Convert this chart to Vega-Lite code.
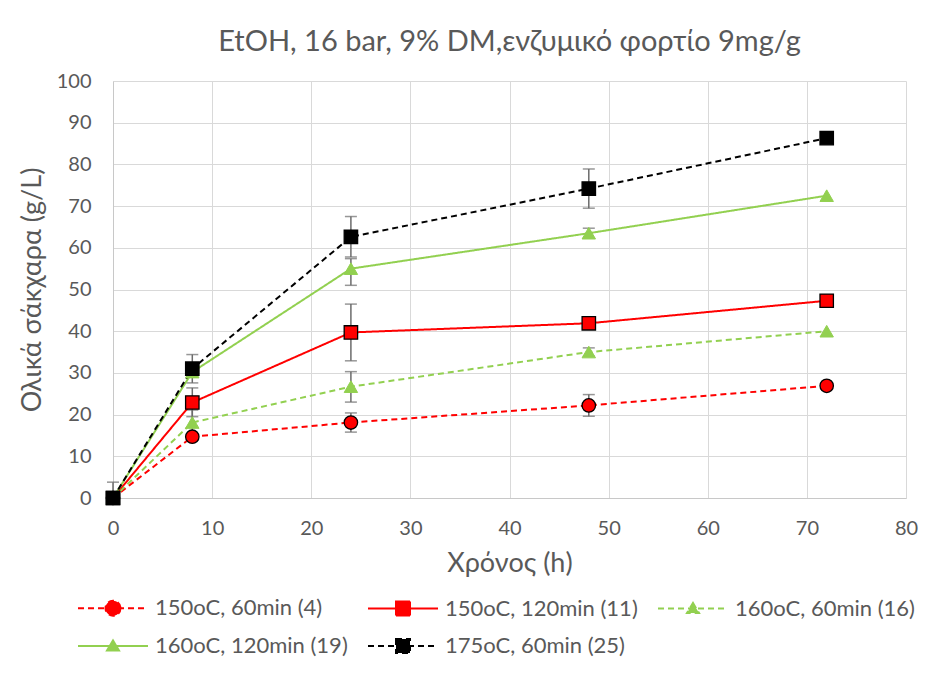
{
  "$schema": "https://vega.github.io/schema/vega-lite/v6.json",
  "width": 793,
  "height": 417,
  "autosize": {"type": "none"},
  "padding": {"left": 113, "top": 81, "right": 44, "bottom": 177},
  "background": "white",
  "title": {
    "text": "EtOH, 16 bar, 9% DM,ενζυμικό φορτίο 9mg/g",
    "fontSize": 29,
    "font": "Lato, Noto Sans",
    "color": "#595959",
    "fontWeight": "normal",
    "offset": 14,
    "anchor": "middle"
  },
  "datasets": {
    "main": [
      {"series": "150oC, 60min (4)", "t": 0, "v": 0},
      {"series": "150oC, 60min (4)", "t": 8, "v": 14.7},
      {"series": "150oC, 60min (4)", "t": 24, "v": 18.1},
      {"series": "150oC, 60min (4)", "t": 48, "v": 22.2},
      {"series": "150oC, 60min (4)", "t": 72, "v": 26.9},
      {"series": "150oC, 120min (11)", "t": 0, "v": 0},
      {"series": "150oC, 120min (11)", "t": 8, "v": 22.9},
      {"series": "150oC, 120min (11)", "t": 24, "v": 39.7},
      {"series": "150oC, 120min (11)", "t": 48, "v": 41.9},
      {"series": "150oC, 120min (11)", "t": 72, "v": 47.3},
      {"series": "160oC, 60min (16)", "t": 0, "v": 0},
      {"series": "160oC, 60min (16)", "t": 8, "v": 18.1},
      {"series": "160oC, 60min (16)", "t": 24, "v": 26.7},
      {"series": "160oC, 60min (16)", "t": 48, "v": 35.0},
      {"series": "160oC, 60min (16)", "t": 72, "v": 40.0},
      {"series": "160oC, 120min (19)", "t": 0, "v": 0},
      {"series": "160oC, 120min (19)", "t": 8, "v": 30.2},
      {"series": "160oC, 120min (19)", "t": 24, "v": 55.0},
      {"series": "160oC, 120min (19)", "t": 48, "v": 63.5},
      {"series": "160oC, 120min (19)", "t": 72, "v": 72.5},
      {"series": "175oC, 60min (25)", "t": 0, "v": 0},
      {"series": "175oC, 60min (25)", "t": 8, "v": 31.0},
      {"series": "175oC, 60min (25)", "t": 24, "v": 62.6},
      {"series": "175oC, 60min (25)", "t": 48, "v": 74.2},
      {"series": "175oC, 60min (25)", "t": 72, "v": 86.3}
    ],
    "err": [
      {"series": "150oC, 60min (4)", "t": 24, "lo": 15.8, "hi": 20.4},
      {"series": "150oC, 60min (4)", "t": 48, "lo": 19.6, "hi": 24.8},
      {"series": "150oC, 120min (11)", "t": 8, "lo": 19.5, "hi": 26.4},
      {"series": "150oC, 120min (11)", "t": 24, "lo": 32.9, "hi": 46.5},
      {"series": "160oC, 60min (16)", "t": 8, "lo": 15.1, "hi": 21.1},
      {"series": "160oC, 60min (16)", "t": 24, "lo": 23.0, "hi": 30.3},
      {"series": "160oC, 60min (16)", "t": 48, "lo": 34.0, "hi": 36.0},
      {"series": "160oC, 120min (19)", "t": 24, "lo": 51.0, "hi": 57.4},
      {"series": "160oC, 120min (19)", "t": 48, "lo": 62.3, "hi": 64.7},
      {"series": "175oC, 60min (25)", "t": 0, "lo": 0, "hi": 3.8},
      {"series": "175oC, 60min (25)", "t": 8, "lo": 27.6, "hi": 34.4},
      {"series": "175oC, 60min (25)", "t": 24, "lo": 57.8, "hi": 67.5},
      {"series": "175oC, 60min (25)", "t": 48, "lo": 69.5, "hi": 78.9}
    ]
  },
  "layer": [
    {
      "data": {"name": "err"},
      "mark": {"type": "errorbar", "ticks": true, "color": "#6b6b6b", "thickness": 1.5, "size": 12},
      "encoding": {
        "x": {"field": "t", "type": "quantitative", "scale": {"domain": [0, 80], "nice": false},
          "axis": {"title": "Χρόνος (h)", "values": [0, 10, 20, 30, 40, 50, 60, 70, 80], "labelPadding": 20, "titlePadding": 12, "labelFlush": false}},
        "y": {"field": "lo", "type": "quantitative", "scale": {"domain": [0, 100], "nice": false},
          "axis": {"title": "Ολικά σάκχαρα (g/L)", "values": [0, 10, 20, 30, 40, 50, 60, 70, 80, 90, 100], "labelPadding": 22, "titlePadding": 10, "labelFlush": false}},
        "y2": {"field": "hi"}
      }
    },
    {
      "data": {"name": "main"},
      "mark": {"type": "line", "strokeWidth": 2},
      "encoding": {
        "x": {"field": "t", "type": "quantitative"},
        "y": {"field": "v", "type": "quantitative"},
        "color": {
          "field": "series", "type": "nominal",
          "scale": {
            "domain": ["150oC, 60min (4)", "150oC, 120min (11)", "160oC, 60min (16)", "160oC, 120min (19)", "175oC, 60min (25)"],
            "range": ["#ff0000", "#ff0000", "#92d050", "#92d050", "#000000"]
          },
          "legend": {
            "title": null,
            "orient": "none",
            "legendX": -36,
            "legendY": 516,
            "direction": "horizontal",
            "columns": 3,
            "gridAlign": "all",
            "columnPadding": 16,
            "rowPadding": 15,
            "symbolSize": 400,
            "symbolStrokeWidth": 2,
            "labelOffset": 56,
            "labelFont": "Lato, Noto Sans",
            "labelFontSize": 22,
            "labelColor": "#595959",
            "labelLimit": 0,
            "encode": {
              "symbols": {
                "update": {
                  "shape": {"signal": "['M-1,0H6M3.25,0A0.75,0.75,0,1,1,1.75,0A0.75,0.75,0,1,1,3.25,0Z','M-1,0H6M1.8,-0.7H3.2V0.7H1.8Z','M-1,0H6M2.5,-0.55L3.1,0.45H1.9Z','M-1,0H6M2.5,-0.55L3.1,0.45H1.9Z','M-1,0H6M1.8,-0.7H3.2V0.7H1.8Z'][indexof(['150oC, 60min (4)','150oC, 120min (11)','160oC, 60min (16)','160oC, 120min (19)','175oC, 60min (25)'], datum.value)]"},
                  "strokeDash": {"signal": "indexof(['150oC, 60min (4)','150oC, 120min (11)','160oC, 60min (16)','160oC, 120min (19)','175oC, 60min (25)'], datum.value) % 2 == 0 ? [5,3] : [1,0]"},
                  "fill": {"signal": "['#ff0000','#ff0000','#92d050','#92d050','#000000'][indexof(['150oC, 60min (4)','150oC, 120min (11)','160oC, 60min (16)','160oC, 120min (19)','175oC, 60min (25)'], datum.value)]"},
                  "fillOpacity": {"value": 1},
                  "strokeWidth": {"value": 2}
                }
              }
            }
          }
        },
        "strokeDash": {
          "field": "series", "type": "nominal",
          "scale": {
            "domain": ["150oC, 60min (4)", "150oC, 120min (11)", "160oC, 60min (16)", "160oC, 120min (19)", "175oC, 60min (25)"],
            "range": [[6, 4], [1, 0], [6, 4], [1, 0], [6, 4]]
          },
          "legend": null
        }
      }
    },
    {
      "data": {"name": "main"},
      "transform": [{"filter": "datum.series === '150oC, 60min (4)'"}],
      "mark": {"type": "point", "shape": "circle", "filled": true, "size": 180, "fill": "#ff0000", "stroke": "#000000", "strokeWidth": 1.3, "opacity": 1},
      "encoding": {"x": {"field": "t", "type": "quantitative"}, "y": {"field": "v", "type": "quantitative"}}
    },
    {
      "data": {"name": "main"},
      "transform": [{"filter": "datum.series === '150oC, 120min (11)'"}],
      "mark": {"type": "point", "shape": "square", "filled": true, "size": 180, "fill": "#ff0000", "stroke": "#000000", "strokeWidth": 1.3, "opacity": 1},
      "encoding": {"x": {"field": "t", "type": "quantitative"}, "y": {"field": "v", "type": "quantitative"}}
    },
    {
      "data": {"name": "main"},
      "transform": [{"filter": "datum.series === '160oC, 60min (16)' || datum.series === '160oC, 120min (19)'"}],
      "mark": {"type": "point", "shape": "triangle-up", "filled": true, "size": 180, "fill": "#92d050", "stroke": "#92d050", "strokeWidth": 1, "opacity": 1},
      "encoding": {"x": {"field": "t", "type": "quantitative"}, "y": {"field": "v", "type": "quantitative"}}
    },
    {
      "data": {"name": "main"},
      "transform": [{"filter": "datum.series === '175oC, 60min (25)'"}],
      "mark": {"type": "point", "shape": "square", "filled": true, "size": 180, "fill": "#000000", "stroke": "#000000", "strokeWidth": 1.3, "opacity": 1},
      "encoding": {"x": {"field": "t", "type": "quantitative"}, "y": {"field": "v", "type": "quantitative"}}
    }
  ],
  "config": {
    "view": {"stroke": null},
    "axis": {
      "grid": true,
      "gridColor": "#d9d9d9",
      "gridWidth": 1,
      "domainColor": "#c8c8c8",
      "domainWidth": 1,
      "ticks": false,
      "tickSize": 0,
      "labelFont": "Lato, Noto Sans",
      "labelFontSize": 20,
      "labelColor": "#595959",
      "titleFont": "Lato, Noto Sans",
      "titleFontSize": 27,
      "titleColor": "#595959",
      "titleFontWeight": "normal"
    }
  }
}
